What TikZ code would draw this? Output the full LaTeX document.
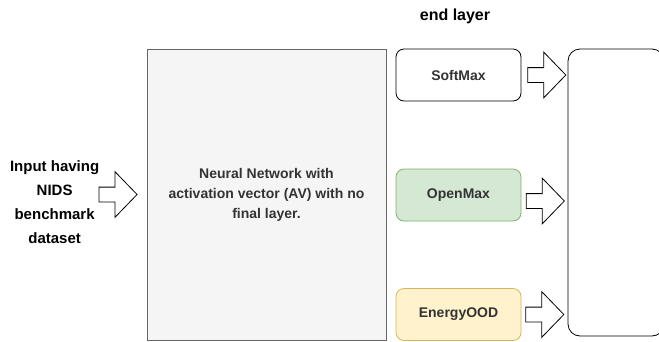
\documentclass[tikz,border=0pt]{standalone}
\usepackage{fontspec}
\setmainfont{Liberation Sans}
\usepackage{tikz}
\usetikzlibrary{arrows.meta,positioning,shapes.arrows}

\definecolor{nnfill}{HTML}{F5F5F5}
\definecolor{nndraw}{HTML}{666666}
\definecolor{greenfill}{HTML}{D5E8D4}
\definecolor{greendraw}{HTML}{82B366}
\definecolor{yellowfill}{HTML}{FFF2CC}
\definecolor{yellowdraw}{HTML}{D6B656}
\definecolor{txt}{HTML}{333333}

\begin{document}
\begin{tikzpicture}[
    x=1pt, y=-1pt,
    font=\bfseries\fontsize{14}{20}\selectfont,
    node distance=5pt,
    nnblock/.style={draw=nndraw, fill=nnfill, text=txt, align=center, minimum width=239pt, minimum height=291pt, inner sep=0pt, line width=0.8pt},
    headblock/.style={draw, rounded corners=8pt, align=center, text=txt, minimum width=125pt, minimum height=52pt, inner sep=0pt, line width=0.8pt},
    bigarrow/.style={single arrow, draw, fill=white, minimum height=38pt, inner xsep=0pt, inner ysep=7pt, single arrow head extend=15.5pt, single arrow tip angle=92, line width=0.8pt}
]
\clip (0,0) rectangle (659,341);

% ---------- Network ----------
\node[nnblock] (nn) at (266.5,194.5) {Neural Network with\\activation vector (AV) with no\\final layer.};
\node[bigarrow, left=9pt of nn] (inarrow) {};
\node[align=center, font=\bfseries\fontsize{15}{24}\selectfont] (input) at (54.6,202.5) {Input having\\NIDS\\benchmark\\dataset};

% ---------- End layer ----------
\node[font=\bfseries\fontsize{16}{20}\selectfont] (title) at (455,16) {end layer};
\node[headblock, fill=white] (softmax) at (458.5,75) {SoftMax};
\node[headblock, draw=greendraw, fill=greenfill] (openmax) at (458.5,195) {OpenMax};
\node[headblock, draw=yellowdraw, fill=yellowfill] (energy) at (458.5,314.5) {EnergyOOD};

% ---------- Output ----------
\node[draw, rounded corners=12pt, fill=white, minimum width=96pt, minimum height=287pt, line width=0.8pt] (out) at (616,192.5) {};

\node[bigarrow, right=6pt of softmax] (arrow1) {};
\node[bigarrow, right=4.5pt of openmax, yshift=-6pt] (arrow2) {};
\node[bigarrow, right=4pt of energy] (arrow3) {};

\end{tikzpicture}
\end{document}
